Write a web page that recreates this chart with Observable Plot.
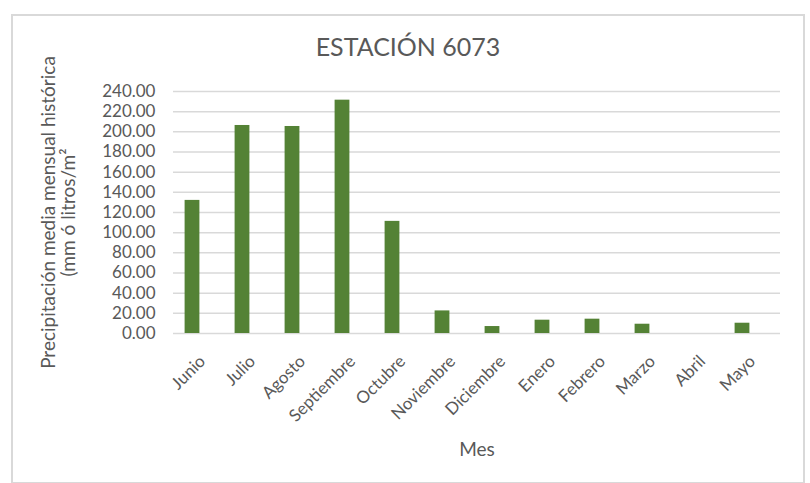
<!DOCTYPE html>
<html>
<head>
<meta charset="utf-8">
<script src="https://cdn.jsdelivr.net/npm/d3@7"></script>
<script src="https://cdn.jsdelivr.net/npm/@observablehq/plot@0.6"></script>
<style>
  html, body { margin: 0; padding: 0; background: #fff; }
  #wrap { position: relative; width: 810px; height: 483px; overflow: hidden; font-family: Lato, "Open Sans", sans-serif; }
  #frame { position: absolute; left: 11px; top: 14px; width: 790px; height: 466px; border: 2px solid #d9d9d9; box-sizing: content-box; }
  #title { position: absolute; left: 0; width: 816px; top: 31px; text-align: center; font-size: 25px; font-weight: 400; color: #595959; line-height: 30px; margin: 0; }
  #chart { position: absolute; left: 0; top: 0; }
</style>
</head>
<body>
<div id="wrap">
  <div id="frame"></div>
  <div id="chart"></div>
  <h2 id="title">ESTACIÓN 6073</h2>
</div>
<script>
const months = ["Junio","Julio","Agosto","Septiembre","Octubre","Noviembre","Diciembre","Enero","Febrero","Marzo","Abril","Mayo"];
const precip = [132, 206.3, 205.3, 231.4, 111.2, 22.4, 6.9, 13.2, 14.2, 9.2, 0, 10.2];
const yTicks = [0, 20, 40, 60, 80, 100, 120, 140, 160, 180, 200, 220, 240];
const xTitle = "Mes";
const yTitle = "Precipitación media mensual histórica\n(mm ó litros/m²";

const data = months.map((m, i) => ({month: m, value: precip[i]}));
const grey = "#595959";

const chart = Plot.plot({
  width: 810,
  height: 483,
  marginLeft: 173,
  marginRight: 30,
  marginTop: 91,
  marginBottom: 150,
  style: {fontFamily: "Lato, 'Open Sans', sans-serif", color: grey, background: "transparent", overflow: "visible"},
  x: {domain: months, padding: 0, axis: null},
  y: {domain: [0, 240], axis: null},
  marks: [
    Plot.ruleY(yTicks, {stroke: "#d9d9d9", strokeWidth: 1.5}),
    Plot.barY(data, {x: "month", y: "value", fill: "#548235", insetLeft: 17.6, insetRight: 17.6, dx: -10}),
    Plot.axisY(yTicks, {tickSize: 0, tickPadding: 18, tickFormat: d => d.toFixed(2), fontSize: 17, fill: grey, label: null}),
    Plot.text(months, {x: Plot.identity, text: Plot.identity, frameAnchor: "bottom", rotate: -45, textAnchor: "end", lineAnchor: "middle", dy: 25, fontSize: 17, fill: grey}),
    Plot.text([xTitle], {text: Plot.identity, frameAnchor: "bottom", lineAnchor: "middle", dy: 116, fontSize: 19, fill: grey}),
    Plot.text([yTitle], {text: Plot.identity, frameAnchor: "left", rotate: -90, lineAnchor: "middle", textAnchor: "middle", lineHeight: 1.08, dx: -115, fontSize: 19, fill: grey})
  ]
});
document.getElementById("chart").appendChild(chart);
</script>
</body>
</html>
